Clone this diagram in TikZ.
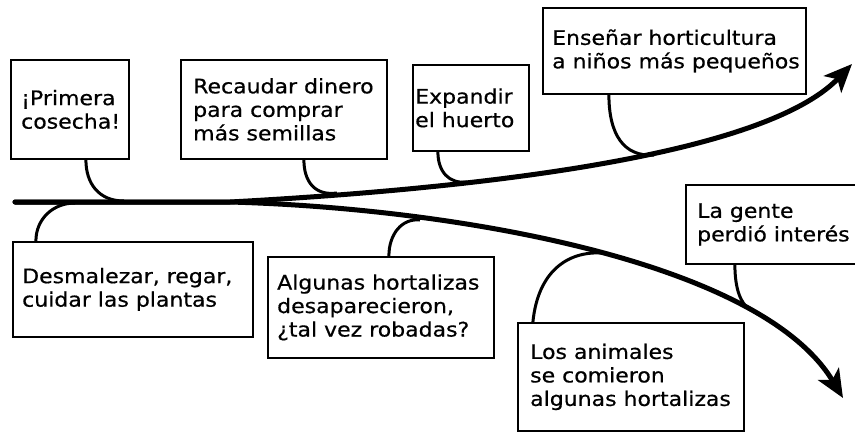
\documentclass[tikz,border=0pt]{standalone}
\usepackage{fontspec}
\setmainfont[FakeStretch=1.1,FakeBold=0.6]{DejaVu Sans}
\usetikzlibrary{arrows.meta}
\begin{document}
\begin{tikzpicture}[x=1pt,y=-1pt,
  box/.style={draw=black, line width=1.8pt, anchor=north west, inner sep=0pt},
  txt/.style={anchor=west, align=left, inner sep=0pt, text=black, font=\fontsize{20}{23.5}\selectfont},
  trunk/.style={line width=5pt, line cap=round, line join=round, -{Stealth[length=28pt,width=24pt,inset=7pt]}},
  link/.style={line width=3pt}]
\useasboundingbox (0,0) rectangle (855,432);
\clip (0,0) rectangle (855,432);

% boxes
\node[box, minimum width=118pt, minimum height=99pt] (b1) at (10,59) {};
\node[txt] (t1) at ([xshift=11pt]b1.west) {¡Primera\\cosecha!};

\node[box, minimum width=206pt, minimum height=99pt] (b2) at (180,59) {};
\node[txt] (t2) at ([xshift=13pt]b2.west) {Recaudar dinero\\para comprar\\más semillas};

\node[box, minimum width=116pt, minimum height=86pt] (b3) at (412,64) {};
\node[txt] (t3) at ([xshift=3pt]b3.west) {Expandir\\el huerto};

\node[box, minimum width=263pt, minimum height=86pt] (b4) at (542,7) {};
\node[txt] (t4) at ([xshift=10pt]b4.west) {Enseñar horticultura\\a niños más pequeños};

\node[box, minimum width=185pt, minimum height=79pt] (b5) at (685,184) {};
\node[txt] (t5) at ([xshift=12pt]b5.west) {La gente\\perdió interés};

\node[box, minimum width=226pt, minimum height=108pt] (b6) at (517,322) {};
\node[txt] (t6) at ([xshift=13pt]b6.west) {Los animales\\se comieron\\algunas hortalizas};

\node[box, minimum width=240pt, minimum height=95pt] (b7) at (12,241) {};
\node[txt] (t7) at ([xshift=10pt]b7.west) {Desmalezar, regar,\\cuidar las plantas};

\node[box, minimum width=226pt, minimum height=101pt] (b8) at (267,256) {};
\node[txt] (t8) at ([xshift=10pt]b8.west) {Algunas hortalizas\\desaparecieron,\\¿tal vez robadas?};

% main lines
\coordinate (start) at (15,202);
\coordinate (fork) at (230,202);
\coordinate (upEnd) at (852,64);
\coordinate (downEnd) at (843,398);
\draw[trunk] (start) -- (fork) .. controls (450,190) and (760,160) .. (upEnd);
\draw[trunk] (start) -- (fork) .. controls (450,208) and (760,260) .. (downEnd);

% join points
\coordinate (j1) at (124,201);
\coordinate (j2) at (337,193);
\coordinate (j3) at (467,182);
\coordinate (j4) at (654,155);
\coordinate (j5) at (749,309);
\coordinate (j6) at (602,253);
\coordinate (j7) at (75,203);
\coordinate (j8) at (420,220);

% connectors
\draw[link] ([xshift=16pt]b1.south) .. controls +(0,24) and +(-25,0) .. (j1);
\draw[link] ([xshift=20pt]b2.south) .. controls +(0,22) and +(-22,3) .. (j2);
\draw[link] ([xshift=-33pt]b3.south) .. controls +(0,20) and +(-18,2) .. (j3);
\draw[link] ([xshift=-65.5pt]b4.south) .. controls +(0,40) and +(-30,2) .. (j4);
\draw[link] ([xshift=-43.5pt]b5.south) .. controls +(0,25) and +(-8,-6) .. (j5);
\draw[link] ([xshift=-98pt]b6.north) .. controls +(5,-50) and +(-35,-2) .. (j6);
\draw[link] ([xshift=-97pt]b7.north) .. controls +(0,-22) and +(-22,0) .. (j7);
\draw[link] ([xshift=8pt]b8.north) .. controls +(0,-22) and +(-18,-2) .. (j8);
\end{tikzpicture}
\end{document}
